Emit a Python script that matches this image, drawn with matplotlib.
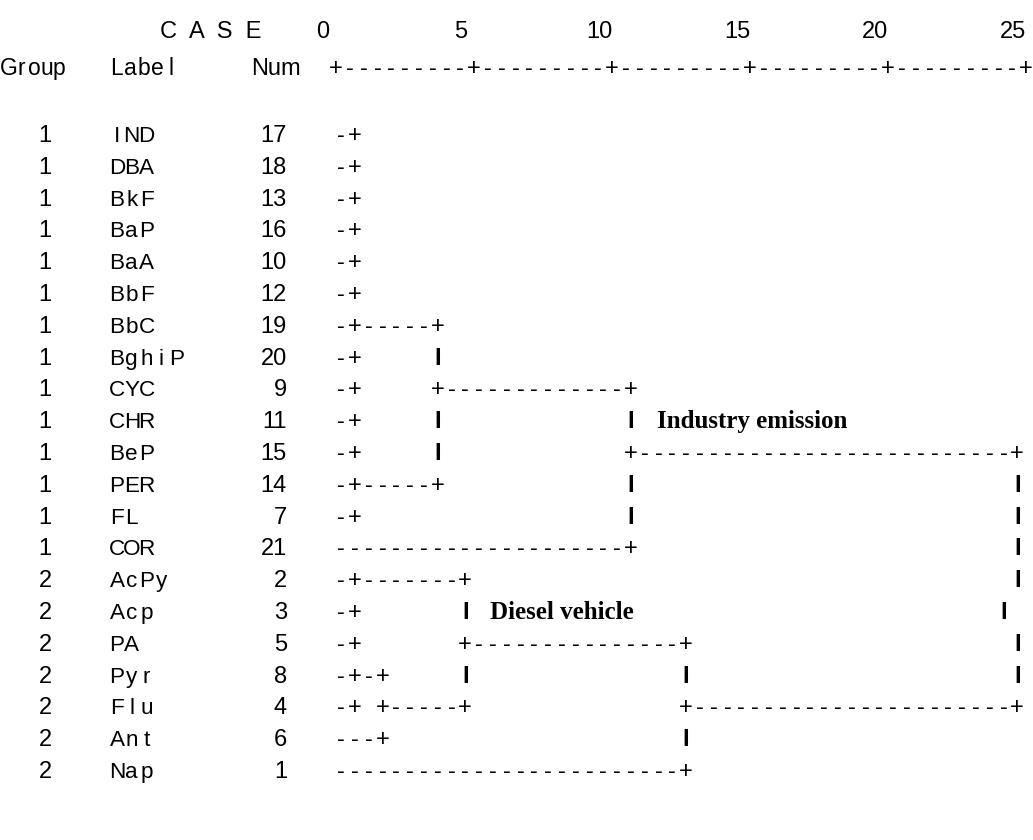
import matplotlib
matplotlib.use('Agg')
import matplotlib.pyplot as plt

# cluster membership, variable labels and case numbers (top to bottom)
groups = [1, 1, 1, 1, 1, 1, 1, 1, 1, 1, 1, 1, 1, 1, 2, 2, 2, 2, 2, 2, 2]
labels = ['IND', 'DBA', 'BkF', 'BaP', 'BaA', 'BbF', 'BbC', 'BghiP', 'CYC', 'CHR',
          'BeP', 'PER', 'FL', 'COR', 'AcPy', 'Acp', 'PA', 'Pyr', 'Flu', 'Ant', 'Nap']
nums = [17, 18, 13, 16, 10, 12, 19, 20, 9, 11, 15, 14, 7, 21, 2, 3, 5, 8, 4, 6, 1]

# rescaled distance ruler
scale_ticks = [0, 5, 10, 15, 20, 25]
ruler = '+' + ('-' * 9 + '+') * 5

# dendrogram drawn as text, one line per case
tree = [
    '-+',
    '-+',
    '-+',
    '-+',
    '-+',
    '-+',
    '-+' + '-' * 5 + '+',
    '-+' + ' ' * 5 + 'I',
    '-+' + ' ' * 5 + '+' + '-' * 13 + '+',
    '-+' + ' ' * 5 + 'I' + ' ' * 13 + 'I',
    '-+' + ' ' * 5 + 'I' + ' ' * 13 + '+' + '-' * 27 + '+',
    '-+' + '-' * 5 + '+' + ' ' * 13 + 'I' + ' ' * 27 + 'I',
    '-+' + ' ' * 19 + 'I' + ' ' * 27 + 'I',
    '-' * 21 + '+' + ' ' * 27 + 'I',
    '-+' + '-' * 7 + '+' + ' ' * 39 + 'I',
    '-+' + ' ' * 7 + 'I' + ' ' * 38 + 'I',
    '-+' + ' ' * 7 + '+' + '-' * 15 + '+' + ' ' * 23 + 'I',
    '-+-+' + ' ' * 5 + 'I' + ' ' * 15 + 'I' + ' ' * 23 + 'I',
    '-+ +' + '-' * 5 + '+' + ' ' * 15 + '+' + '-' * 23 + '+',
    '---+' + ' ' * 21 + 'I',
    '-' * 25 + '+',
]

# cluster names written next to the branches
notes = ['Industry emission', 'Diesel vehicle']
note_rows = [9, 15]
note_cols = [22.9, 10.8]

fig = plt.figure(figsize=(10.33, 8.4), dpi=100)
ax = fig.add_axes([0, 0, 1, 1])
ax.set_xlim(0, 1033)
ax.set_ylim(840, 0)
ax.axis('off')

sans = ['Liberation Sans Narrow', 'Liberation Sans', 'DejaVu Sans']
fs = 17


def spaced(s, x0, cw, y, size=fs, heavy_bars=False):
    # one character per fixed-width cell
    for i, ch in enumerate(s):
        if ch == ' ':
            continue
        weight = 'bold' if heavy_bars and ch == 'I' else 'normal'
        ax.text(x0 + i * cw, y, ch, ha='center', va='baseline',
                family=sans, fontsize=size, fontweight=weight)


row0 = 142
dy = 31.8
tree_x0, tree_cw = 341, 13.8
rule_x0, rule_cw = 336, 13.8

# header lines
ax.text(160, 38, 'C  A  S  E', va='baseline', family=sans, fontsize=fs)
for t in scale_ticks:
    ax.text(rule_x0 + t * 2 * rule_cw - 13, 38, str(t), ha='center', va='baseline',
            family=sans, fontsize=fs)
spaced('Group', 9, 12.6, 75, 16.5)
spaced('Label', 117, 13.6, 75, 16.5)
ax.text(251, 75, 'Num', va='baseline', family=sans, fontsize=fs)
spaced(ruler, rule_x0, rule_cw, 75)

for i in range(len(labels)):
    y = row0 + i * dy
    ax.text(45, y, str(groups[i]), ha='center', va='baseline', family=sans, fontsize=fs)
    spaced(labels[i], 117, 14.8, y, 16.2)
    ax.text(287, y, str(nums[i]), ha='right', va='baseline', family=sans, fontsize=fs)
    spaced(tree[i], tree_x0, tree_cw, y, heavy_bars=True)

for name, r, c in zip(notes, note_rows, note_cols):
    ax.text(tree_x0 + c * tree_cw, row0 + r * dy, name, va='baseline',
            family=['Liberation Serif', 'DejaVu Serif'], fontweight='bold', fontsize=18)

fig.savefig('out.png', dpi=100)
